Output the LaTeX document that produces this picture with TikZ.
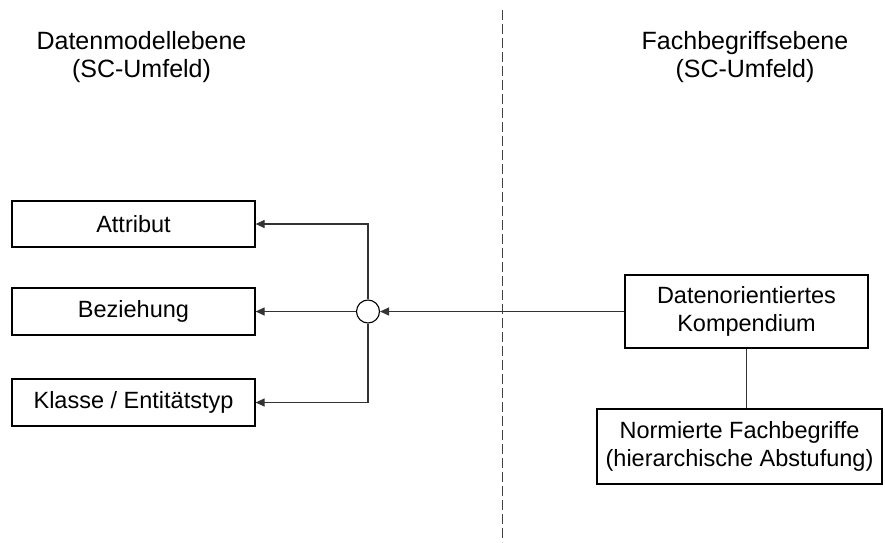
\documentclass[tikz,border=0pt]{standalone}
\usepackage{fontspec}
\setmainfont{Liberation Sans}
\usetikzlibrary{arrows.meta}
\begin{document}
\begin{tikzpicture}[x=1pt,y=-1pt,
  box/.style={draw=black,line width=1.2pt,minimum width=243pt,inner sep=0pt,align=center,
    font=\fontsize{23.5}{28}\selectfont},
  head/.style={align=center,font=\fontsize{25}{28}\selectfont,inner sep=0pt},
  conn/.style={draw=black!80,line width=1.2pt},
  arr/.style={conn,-{Triangle[length=9pt,width=8pt]}}]
\useasboundingbox (0,0) rectangle (885,542);
\node[head] (hl) at (141.5,57) {Datenmodellebene\\(SC-Umfeld)};
\node[head] (hr) at (745,57) {Fachbegriffsebene\\(SC-Umfeld)};
\coordinate (dtop) at (502,10);
\coordinate (dbot) at (502,542);
\draw[black!75,line width=0.9pt,dash pattern=on 10pt off 4pt] (dtop) -- (dbot);
\node[box,minimum height=46pt] (attr) at (133.5,224) {Attribut};
\node[box,minimum height=47pt] (bez) at (133.5,311.5) {Beziehung};
\node[box,minimum height=47pt] (kl) at (133.5,402.5) {Klasse / Entitätstyp};
\node[circle,draw=black,line width=1.1pt,minimum size=23pt,inner sep=0pt,fill=white] (circ) at (368,311.5) {};
\node[box,minimum height=73pt] (dat) at (746.5,311.5) {Datenorientiertes\\Kompendium};
\node[box,minimum width=285pt,minimum height=75pt] (norm) at (739.5,446.5) {Normierte Fachbegriffe\\(hierarchische Abstufung)};
\draw[arr] (circ.north) |- (attr.east);
\draw[arr] (circ.west) -- (bez.east);
\draw[arr] (circ.south) |- (kl.east);
\draw[arr] (dat.west) -- (circ.east);
\draw[conn] (dat.south) -- (dat.south |- norm.north);
\end{tikzpicture}
\end{document}
